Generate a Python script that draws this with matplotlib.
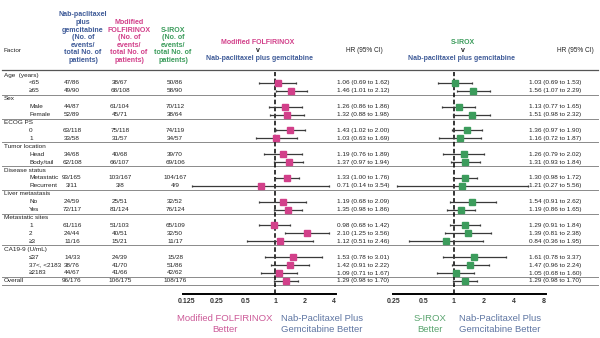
import numpy as np
import matplotlib.pyplot as plt

plt.rcParams['font.family'] = ['Liberation Sans', 'DejaVu Sans']

# ---- data ----
groups = ["Age  (years)", "Sex", "ECOG PS", "Tumor location", "Disease status",
          "Liver metastasis", "Metastatic sites", "CA19-9 (U/mL)"]
subgroups = [["<65", "≥65"], ["Male", "Female"], ["0", "1"], ["Head", "Body/tail"],
             ["Metastatic", "Recurrent"], ["No", "Yes"], ["1", "2", "≥3"],
             ["≤37", "37<, <2183", "≥2183"]]

nab_n = ["47/86", "49/90", "44/87", "52/89", "63/118", "33/58", "34/68", "62/108",
         "93/165", "3/11", "24/59", "72/117", "61/116", "24/44", "11/16",
         "14/33", "38/76", "44/67", "96/176"]
mf_n = ["38/67", "68/108", "61/104", "45/71", "75/118", "31/57", "40/68", "66/107",
        "103/167", "3/8", "25/51", "81/124", "51/103", "40/51", "15/21",
        "24/39", "41/70", "41/66", "106/175"]
s_n = ["50/86", "58/90", "70/112", "38/64", "74/119", "34/57", "39/70", "69/106",
       "104/167", "4/9", "32/52", "76/124", "65/109", "32/50", "11/17",
       "15/28", "51/86", "42/62", "108/176"]

mf_hr = [1.06, 1.46, 1.26, 1.32, 1.43, 1.03, 1.19, 1.37, 1.33, 0.71, 1.19, 1.35,
         0.98, 2.10, 1.12, 1.53, 1.42, 1.09, 1.29]
mf_lo = [0.69, 1.01, 0.86, 0.88, 1.02, 0.63, 0.76, 0.97, 1.00, 0.14, 0.68, 0.98,
         0.68, 1.25, 0.51, 0.78, 0.91, 0.71, 0.98]
mf_hi = [1.62, 2.12, 1.86, 1.98, 2.00, 1.69, 1.89, 1.94, 1.76, 3.54, 2.09, 1.86,
         1.42, 3.56, 2.46, 3.01, 2.22, 1.67, 1.70]

s_hr = [1.03, 1.56, 1.13, 1.51, 1.36, 1.16, 1.26, 1.31, 1.30, 1.21, 1.54, 1.19,
        1.29, 1.39, 0.84, 1.61, 1.47, 1.05, 1.29]
s_lo = [0.69, 1.07, 0.77, 0.98, 0.97, 0.72, 0.79, 0.93, 0.98, 0.27, 0.91, 0.86,
        0.91, 0.81, 0.36, 0.78, 0.96, 0.68, 0.98]
s_hi = [1.53, 2.29, 1.65, 2.32, 1.90, 1.87, 2.02, 1.84, 1.72, 5.56, 2.62, 1.65,
        1.84, 2.38, 1.95, 3.37, 2.24, 1.60, 1.70]

left_ticks = [0.125, 0.25, 0.5, 1, 2, 4]
right_ticks = [0.25, 0.5, 1, 2, 4, 8]

PINK = '#d2408a'
GREEN = '#3c9c5c'
BLUE = '#3f5b98'
DARK = '#222222'

W, H = 600, 338
ROW0, ROWH = 75, 7.92   # pixel of first row, pixels per row
AX_TOP, AX_BOT = 72, 294


def row(px):
    return (px - ROW0) / ROWH


fig = plt.figure(figsize=(6, 3.38), dpi=100)
bg = fig.add_axes([0, 0, 1, 1])
bg.set_xlim(0, W)
bg.set_ylim(row(H), row(0))
bg.axis('off')

# build row layout
labels, indent, item_rows, seps = [], [], [], []
r = 0
for g, subs in zip(groups, subgroups):
    labels.append(g); indent.append(False)
    r += 1
    for s in subs:
        labels.append(s); indent.append(True); item_rows.append(r)
        r += 1
    seps.append(r - 0.5)
labels.append("Overall"); indent.append(False); item_rows.append(r)
seps.append(r + 0.5)

fs = 4.6
for i, (lab, ind) in enumerate(zip(labels, indent)):
    bg.text(29 if ind else 4, i, lab, fontsize=fs, va='center', color=DARK)

for k, y in enumerate(item_rows):
    bg.text(72, y, nab_n[k], fontsize=fs, va='center', ha='center', color=DARK)
    bg.text(120, y, mf_n[k], fontsize=fs, va='center', ha='center', color=DARK)
    bg.text(175, y, s_n[k], fontsize=fs, va='center', ha='center', color=DARK)
    bg.text(337, y, f"{mf_hr[k]:.2f} ({mf_lo[k]:.2f} to {mf_hi[k]:.2f})",
            fontsize=fs, va='center', color=DARK)
    bg.text(529, y, f"{s_hr[k]:.2f} ({s_lo[k]:.2f} to {s_hi[k]:.2f})",
            fontsize=fs, va='center', color=DARK)

bg.plot([2, 598], [row(70)] * 2, color='#555555', lw=0.9)
for y in seps:
    bg.plot([2, 598], [y, y], color='#8a8a8a', lw=0.7)

# column headers
hkw = dict(fontsize=5.1, fontweight='bold', ha='center', va='bottom',
           multialignment='center', linespacing=1.12)
bg.text(83, row(64), "Nab-paclitaxel\nplus\ngemcitabine\n(No. of\nevents/\ntotal No. of\npatients)",
        color=BLUE, **hkw)
bg.text(129, row(64), "Modified\nFOLFIRINOX\n(No. of\nevents/\ntotal No. of\npatients)",
        color=PINK, **hkw)
bg.text(173, row(64), "S-IROX\n(No. of\nevents/\ntotal No. of\npatients)",
        color=GREEN, **hkw)
bg.text(4, row(51), "Factor", fontsize=fs, va='center', color=DARK)

pkw = dict(fontsize=5, fontweight='bold', ha='center', va='center')
bg.text(258, row(42), "Modified FOLFIRINOX", color=PINK, **pkw)
bg.text(258, row(50), "v", color=DARK, **pkw)
bg.text(259, row(59), "Nab-paclitaxel plus gemcitabine", color=BLUE, **pkw)
bg.text(364, row(51), "HR (95% CI)", fontsize=4.7, ha='center', va='center', color=DARK)
bg.text(463, row(42), "S-IROX", color=GREEN, **pkw)
bg.text(463, row(50), "v", color=DARK, **pkw)
bg.text(462, row(59), "Nab-paclitaxel plus gemcitabine", color=BLUE, **pkw)
bg.text(575, row(51), "HR (95% CI)", fontsize=4.7, ha='center', va='center', color=DARK)

# bottom "better" captions
bkw = dict(fontsize=6.8, ha='center', va='center', multialignment='center', linespacing=1.25)
bg.text(225, row(324), "Modified FOLFIRINOX\nBetter", color='#cc5a98', **bkw)
bg.text(322, row(324), "Nab-Paclitaxel Plus\nGemcitabine Better", color='#5f76a3', **bkw)
bg.text(430, row(324), "S-IROX\nBetter", color='#5aa46f', **bkw)
bg.text(500, row(324), "Nab-Paclitaxel Plus\nGemcitabine Better", color='#5f76a3', **bkw)


def forest(x0, x1, xlo, xhi, hr, lo, hi, color, ticks):
    ax = fig.add_axes([x0 / W, 1 - AX_BOT / H, (x1 - x0) / W, (AX_BOT - AX_TOP) / H])
    ax.set_xscale('log', base=2)
    ax.set_xlim(xlo, xhi)
    ax.set_ylim(row(AX_BOT), row(AX_TOP))
    ax.patch.set_alpha(0)
    for s in ['top', 'left', 'right']:
        ax.spines[s].set_visible(False)
    ax.spines['bottom'].set_linewidth(1.4)
    ax.set_yticks([])
    ax.set_xticks(ticks)
    ax.set_xticklabels([f"{t:g}" for t in ticks], fontweight='bold')
    ax.minorticks_off()
    ax.tick_params(axis='x', length=0, pad=3, labelsize=5, labelcolor='#333333')
    ax.axvline(1, color='black', lw=1.1, ls=(0, (3, 1.6)), zorder=1)
    ax.hlines(item_rows, lo, hi, color='#3a3a3a', lw=0.9, zorder=2)
    ax.plot(lo, item_rows, '|', color='#3a3a3a', ms=2, mew=0.9, zorder=2)
    ax.plot(hi, item_rows, '|', color='#3a3a3a', ms=2, mew=0.9, zorder=2)
    ax.plot(hr, item_rows, 's', color=color, ms=3.8, mec=color, zorder=3)
    return ax


forest(183, 336, 2 ** (-3 - 4 / 29.4), 2 ** (2 + 2 / 29.4), mf_hr, mf_lo, mf_hi, PINK, left_ticks)
forest(393, 546, 2 ** (-2 - 0.5 / 30.2), 2 ** (3 + 2 / 30.2), s_hr, s_lo, s_hi, GREEN, right_ticks)

fig.savefig('out.png', dpi=100)
